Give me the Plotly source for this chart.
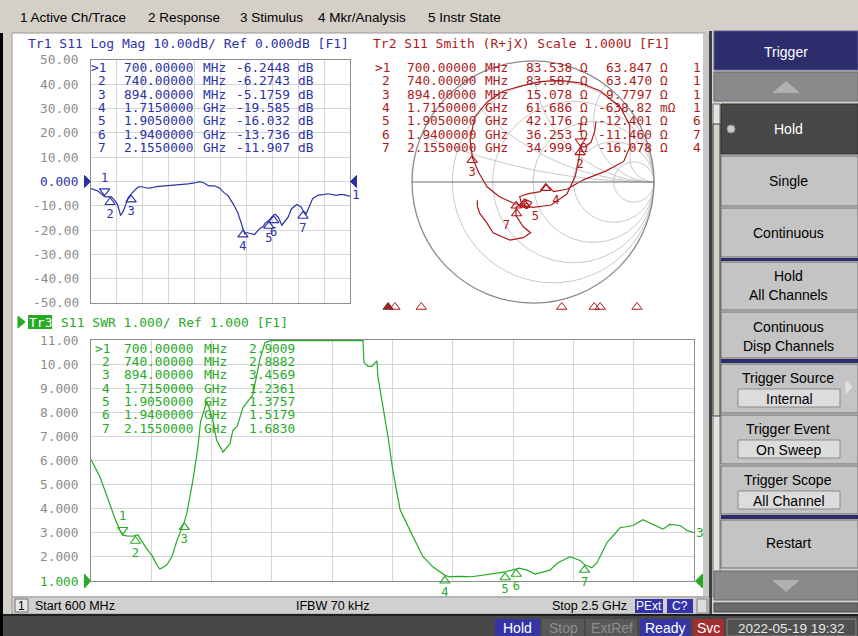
import numpy as np
import plotly.graph_objects as go

W, H = 858, 636
def X(px): return px / W
def Y(py): return 1 - py / H

MONO = 'DejaVu Sans Mono'
SANS = 'Liberation Sans'
BLUE = '#2b32a8'
RED = '#ad1a1a'
GREEN = '#26aa26'
TICKGRAY = '#8c8c8c'

# ---------------- data ----------------
freq_mhz = [600, 628, 647, 660, 676, 691, 700, 713, 732, 740, 748, 776, 792, 808, 817, 824, 839,
            855, 871, 894, 902, 921, 937, 945, 965, 984, 996, 1016, 1038, 1047, 1060, 1079, 1110,
            1132, 1148, 1165, 1240, 1312, 1360, 1397, 1430, 1457, 1460, 1473, 1485, 1501, 1504,
            1517, 1526, 1536, 1551, 1574, 1605, 1646, 1678, 1700, 1715, 1727, 1740, 1763, 1800,
            1835, 1862, 1879, 1905, 1940, 1950, 1974, 2000, 2046, 2070, 2109, 2141, 2155, 2178,
            2194, 2226, 2267, 2289, 2308, 2339, 2371, 2402, 2424, 2456, 2478, 2500]
s11_db = [-2.9, -3.3, -3.8, -4.3, -5.0, -5.8, -6.24, -6.32, -6.35, -6.27, -6.22, -8.0, -9.2, -12.1,
          -14.0, -13.4, -12.0, -9.5, -6.8, -5.18, -4.66, -3.4, -2.67, -2.3, -2.06, -2.28, -2.56,
          -2.76, -2.61, -2.41, -2.36, -2.13, -2.0, -1.71, -1.6, -1.5, -1.2, -0.96, -0.6, -0.1,
          -0.6, -1.5, -1.73, -1.76, -1.76, -1.72, -1.84, -2.06, -2.24, -2.51, -3.14, -4.49, -5.81,
          -9.5, -13.0, -16.5, -19.59, -21.5, -21.0, -21.3, -21.8, -19.5, -18.5, -17.0, -16.03,
          -13.74, -13.5, -14.7, -18.0, -14.7, -11.3, -9.5, -10.5, -11.91, -13.3, -11.3, -7.05,
          -5.6, -5.53, -5.43, -5.04, -5.35, -5.71, -5.35, -5.43, -5.81, -6.02]

# S11 as complex reflection coefficient (Smith chart trace)
smith_gamma_re = [0.52, 0.51, 0.48, 0.43, 0.39, 0.38, 0.35, 0.28, 0.15, 0.00, -0.15, -0.28, -0.38,
                  -0.45, -0.50, -0.52, -0.48, -0.38, -0.25, -0.11, 0.06, 0.22, 0.39, 0.56, 0.72,
                  0.80, 0.80, 0.75, 0.60, 0.42, 0.28, 0.17, 0.11, 0.06, 0.00, -0.05, -0.11, -0.09,
                  -0.04, -0.01, -0.07, -0.11, -0.14, -0.14, -0.08, -0.02, -0.08, -0.19, -0.33,
                  -0.38, -0.44, -0.46, -0.46]
smith_gamma_im = [0.50, 0.42, 0.33, 0.29, 0.29, 0.20, 0.05, -0.10, -0.19, -0.21, -0.18, -0.12,
                  -0.04, 0.08, 0.20, 0.35, 0.54, 0.66, 0.75, 0.79, 0.83, 0.84, 0.82, 0.75, 0.62,
                  0.47, 0.29, 0.17, 0.09, 0.02, -0.06, -0.08, -0.02, -0.08, -0.09, -0.10, -0.12,
                  -0.20, -0.21, -0.17, -0.14, -0.19, -0.21, -0.28, -0.37, -0.42, -0.46, -0.48,
                  -0.42, -0.34, -0.26, -0.20, -0.15]

marker_ids = ['1', '2', '3', '4', '5', '6', '7']
marker_freq_mhz = [700, 740, 894, 1715, 1905, 1940, 2155]
marker_freq_text = ['700.00000', '740.00000', '894.00000', '1.7150000', '1.9050000', '1.9400000', '2.1550000']
marker_freq_unit = ['MHz', 'MHz', 'MHz', 'GHz', 'GHz', 'GHz', 'GHz']
marker_db = [-6.2448, -6.2743, -5.1759, -19.585, -16.032, -13.736, -11.907]
marker_r_ohm = [83.538, 83.587, 15.078, 61.686, 42.176, 36.253, 34.999]
marker_x_ohm = [63.847, 63.470, 9.7797, -0.63882, -12.401, -11.460, -16.078]
marker_x_text = ['63.847', '63.470', '9.7797', '-638.82', '-12.401', '-11.460', '-16.078']
marker_x_unit = ['Ω', 'Ω', 'Ω', 'mΩ', 'Ω', 'Ω', 'Ω']
marker_lc_text = ['1', '1', '1', '1', '6', '7', '4']
marker_swr = [2.9009, 2.8882, 3.4569, 1.2361, 1.3757, 1.5179, 1.6830]

tr1_tick_vals = [50, 40, 30, 20, 10, 0, -10, -20, -30, -40, -50]
tr1_tick_text = ['50.00', '40.00', '30.00', '20.00', '10.00', '0.000', '-10.00', '-20.00', '-30.00', '-40.00', '-50.00']
tr3_tick_vals = [11, 10, 9, 8, 7, 6, 5, 4, 3, 2, 1]
tr3_tick_text = ['11.00', '10.00', '9.000', '8.000', '7.000', '6.000', '5.000', '4.000', '3.000', '2.000', '1.000']

# ---------------- geometry (px) ----------------
F0, F1 = 600, 2500
T1 = dict(x0=91, x1=350, y0=60, y1=303, top=50, bot=-50)
T3 = dict(x0=91, x1=694, y0=340, y1=581, top=11, bot=1)
SM = dict(x0=412, x1=654, y0=61, y1=303)
SM_ROW = dict(x0=371, x1=696)

def fpx(T, f):
    return T['x0'] + (f - F0) / (F1 - F0) * (T['x1'] - T['x0'])
def vpx(T, v):
    return T['y0'] + (T['top'] - v) / (T['top'] - T['bot']) * (T['y1'] - T['y0'])
def upp(T):
    return (T['top'] - T['bot']) / (T['y1'] - T['y0'])

shapes = []
annotations = []

def rect(x0, y0, x1, y1, fill, line=None, lw=1, layer='below'):
    shapes.append(dict(type='rect', xref='paper', yref='paper', x0=X(x0), x1=X(x1), y0=Y(y1), y1=Y(y0),
                       fillcolor=fill, line=dict(color=line or fill, width=lw if line else 0), layer=layer))

def tri(cx, cy, w, h, direction, fill, line=None):
    if direction == 'up':
        pts = [(cx - w / 2, cy + h / 2), (cx + w / 2, cy + h / 2), (cx, cy - h / 2)]
    elif direction == 'down':
        pts = [(cx - w / 2, cy - h / 2), (cx + w / 2, cy - h / 2), (cx, cy + h / 2)]
    elif direction == 'right':
        pts = [(cx - w / 2, cy - h / 2), (cx - w / 2, cy + h / 2), (cx + w / 2, cy)]
    else:
        pts = [(cx + w / 2, cy - h / 2), (cx + w / 2, cy + h / 2), (cx - w / 2, cy)]
    path = 'M ' + ' L '.join(f'{X(a):.5f},{Y(b):.5f}' for a, b in pts) + ' Z'
    shapes.append(dict(type='path', xref='paper', yref='paper', path=path, fillcolor=fill,
                       line=dict(color=line or fill, width=1), layer='above'))

def txt(x, y, s, color, size=12.8, family=MONO, xanchor='left', yanchor='middle', height=None):
    a = dict(x=X(x), y=Y(y), xref='paper', yref='paper', text=s, showarrow=False,
             font=dict(family=family, size=size, color=color), xanchor=xanchor,
             yanchor=yanchor, borderpad=0, borderwidth=0)
    if height is not None:
        a['height'] = height
        a['valign'] = 'middle'
    annotations.append(a)

# ---------------- background / chrome ----------------
rect(0, 0, 858, 33, '#d4d0c8')
rect(0, 33, 3, 636, '#000000')
rect(3, 33, 12, 614, '#d4d0c8')
rect(12, 33, 706, 597, '#ffffff', line='#9a9a9a', lw=1)
rect(703, 33, 710, 597, '#c8c8c8')
rect(709, 31, 712, 614, '#404040')

# menu
for xx, s in [(20, '1 Active Ch/Trace'), (148, '2 Response'), (240, '3 Stimulus'),
              (318, '4 Mkr/Analysis'), (428, '5 Instr State')]:
    txt(xx, 17, s, '#000000', size=13.5, family=SANS)

# channel status bar
rect(12, 597, 709, 614, '#d0d0d0', line='#9a9a9a')
rect(15, 599, 28, 612, '#e8e8e8', line='#707070')
txt(21.5, 606, '1', '#000000', size=12, family=SANS, xanchor='center')
txt(35, 606, 'Start 600 MHz', '#000000', size=12.5, family=SANS)
txt(296, 606, 'IFBW 70 kHz', '#000000', size=12.5, family=SANS)
txt(627, 606, 'Stop 2.5 GHz', '#000000', size=12.5, family=SANS, xanchor='right')
rect(635, 599, 663, 613, '#3434a8')
txt(649, 606, 'PExt', '#ffffff', size=12, family=SANS, xanchor='center')
rect(667, 599, 693, 613, '#3434a8')
txt(680, 606, 'C?', '#ffffff', size=12, family=SANS, xanchor='center')
rect(697, 599, 707, 613, '#dcdcdc', line='#808080')

# instrument status bar
rect(3, 614, 858, 636, '#484848')
rect(3, 614, 858, 616, '#202020')
rect(495, 619, 540, 636, '#3434a4')
txt(517.5, 628, 'Hold', '#ffffff', size=14, family=SANS, xanchor='center')
rect(542, 619, 584, 636, '#585858')
txt(563, 628, 'Stop', '#8c8c8c', size=14, family=SANS, xanchor='center')
rect(586, 619, 637, 636, '#585858')
txt(611.5, 628, 'ExtRef', '#8c8c8c', size=14, family=SANS, xanchor='center')
rect(640, 619, 690, 636, '#3434a4')
txt(665, 628, 'Ready', '#ffffff', size=14, family=SANS, xanchor='center')
rect(693, 619, 724, 636, '#a03030')
txt(708.5, 628, 'Svc', '#ffffff', size=14, family=SANS, xanchor='center')
rect(727, 619, 856, 636, '#505050', line='#8a8a8a')
txt(791.5, 628, '2022-05-19 19:32', '#e8e8e8', size=13.5, family=SANS, xanchor='center')

# right soft-key panel
NAVY = '#2d2d6e'
rect(714, 31, 858, 70, NAVY, line='#5a5a90')
txt(786, 52, 'Trigger', '#ffffff', size=14, family=SANS, xanchor='center')
rect(714, 72, 858, 101, '#8a8a8a', line='#6a6a6a')
tri(786, 87, 26, 11, 'up', '#b0b0b0')
rect(713, 104, 720, 597, '#e6e4de', line='#707070')
rect(713, 124, 720, 416, '#d4d0c8', line='#404040')
rect(721, 104, 858, 154, '#484848', line='#303030')
shapes.append(dict(type='circle', xref='paper', yref='paper', x0=X(727), x1=X(735), y0=Y(133), y1=Y(125),
                   fillcolor='#c8c8c8', line=dict(color='#909090', width=1)))
txt(788, 129, 'Hold', '#ffffff', size=14, family=SANS, xanchor='center')
BTN = '#c4c4c4'
BTNL = '#6e6e6e'
rect(721, 156, 858, 206, BTN, line=BTNL)
txt(788, 181, 'Single', '#000000', size=14, family=SANS, xanchor='center')
rect(721, 208, 858, 257, BTN, line=BTNL)
txt(788, 233, 'Continuous', '#000000', size=14, family=SANS, xanchor='center')
rect(721, 258, 858, 261, NAVY)
rect(721, 262, 858, 310, BTN, line=BTNL)
txt(788, 276, 'Hold', '#000000', size=14, family=SANS, xanchor='center')
txt(788, 295, 'All Channels', '#000000', size=14, family=SANS, xanchor='center')
rect(721, 312, 858, 358, BTN, line=BTNL)
txt(788, 327, 'Continuous', '#000000', size=14, family=SANS, xanchor='center')
txt(788, 346, 'Disp Channels', '#000000', size=14, family=SANS, xanchor='center')
rect(721, 359, 858, 363, NAVY)
for (y0, y1, lab, val) in [(364, 413, 'Trigger Source', 'Internal'),
                           (415, 464, 'Trigger Event', 'On Sweep'),
                           (466, 514, 'Trigger Scope', 'All Channel')]:
    rect(721, y0, 858, y1, BTN, line=BTNL)
    txt(788, y0 + 14, lab, '#000000', size=14, family=SANS, xanchor='center')
    rect(738, y0 + 25, 840, y0 + 43, '#dcdcdc', line='#8a8a8a')
    txt(789, y0 + 34.5, val, '#000000', size=14, family=SANS, xanchor='center')
tri(849, 387, 6, 13, 'right', '#e0e0e0')
rect(721, 515, 858, 519, NAVY)
rect(721, 520, 858, 568, BTN, line=BTNL)
txt(788, 543, 'Restart', '#000000', size=14, family=SANS, xanchor='center')
rect(714, 571, 858, 600, '#8a8a8a', line='#6a6a6a')
tri(786, 586, 26, 11, 'down', '#b0b0b0')
rect(714, 603, 858, 612, '#6a6a6a', line='#4a4a4a')

# ---------------- headers ----------------
txt(28, 44, 'Tr1 S11 Log Mag 10.00dB/ Ref 0.000dB [F1]', BLUE, size=13)
txt(373, 44, 'Tr2 S11 Smith (R+jX) Scale 1.000U [F1]', RED, size=13)
tri(21.5, 322, 7, 12, 'right', GREEN)
rect(28, 315, 52, 329, GREEN)
txt(29, 322, 'Tr3', '#ffffff', size=13)
txt(61, 322, 'S11 SWR 1.000/ Ref 1.000 [F1]', GREEN, size=13)

# tick labels
for v, s in zip(tr1_tick_vals, tr1_tick_text):
    txt(79, vpx(T1, v), s, BLUE if v == 0 else TICKGRAY, xanchor='right')
for v, s in zip(tr3_tick_vals, tr3_tick_text):
    txt(79, vpx(T3, v), s, GREEN if v == 1 else TICKGRAY, xanchor='right')

# reference-level pointers
tri(87.5, vpx(T1, 0), 6, 12, 'right', BLUE)
tri(353.5, vpx(T1, 0), 6, 12, 'left', BLUE)
tri(87.5, vpx(T3, 1), 6, 14, 'right', GREEN)
tri(699, vpx(T3, 1), 7, 14, 'left', GREEN)

# marker tables (tight rows, like the instrument)
ROW0, DROW, RH = 67.5, 13.33, 13
for i in range(7):
    y = ROW0 + i * DROW
    lab = ('>' if i == 0 else '') + marker_ids[i]
    # Tr1
    txt(106, y, lab, BLUE, xanchor='right', height=RH)
    txt(193, y, marker_freq_text[i], BLUE, xanchor='right', height=RH)
    txt(203, y, marker_freq_unit[i], BLUE, height=RH)
    txt(290, y, f'{marker_db[i]:.5g}' if abs(marker_db[i]) < 10 else f'{marker_db[i]:.3f}', BLUE,
        xanchor='right', height=RH)
    txt(298, y, 'dB', BLUE, height=RH)
    # Tr2
    txt(390, y, lab, RED, xanchor='right', height=RH)
    txt(476, y, marker_freq_text[i], RED, xanchor='right', height=RH)
    txt(485, y, marker_freq_unit[i], RED, height=RH)
    txt(572, y, f'{marker_r_ohm[i]:.3f}', RED, xanchor='right', height=RH)
    txt(580, y, 'Ω', RED, height=RH)
    txt(652, y, marker_x_text[i], RED, xanchor='right', height=RH)
    txt(660, y, marker_x_unit[i], RED, height=RH)
    txt(693, y, marker_lc_text[i], RED, height=RH)
    # Tr3
    y3 = 348.3 + i * DROW
    txt(110, y3, lab, GREEN, xanchor='right', height=RH)
    txt(193, y3, marker_freq_text[i], GREEN, xanchor='right', height=RH)
    txt(204, y3, marker_freq_unit[i], GREEN, height=RH)
    txt(295, y3, f'{marker_swr[i]:.4f}', GREEN, xanchor='right', height=RH)

# trace end labels
txt(352, vpx(T1, s11_db[-1]) - 2, '1', BLUE)

# ---------------- traces ----------------
f = np.array(freq_mhz, dtype=float)
db = np.array(s11_db, dtype=float)
mag = 10 ** (db / 20)
swr = (1 + mag) / (1 - mag)
swr_disp = np.minimum(swr, T3['top'] - 0.6 * upp(T3))
txt(696, vpx(T3, swr_disp[-1]), '3', GREEN)

fig = go.Figure()
fig.add_trace(go.Scatter(x=f, y=db, mode='lines', line=dict(color=BLUE, width=1.2),
                         xaxis='x', yaxis='y', hoverinfo='skip'))
fig.add_trace(go.Scatter(x=f, y=swr_disp, mode='lines', line=dict(color=GREEN, width=1.2),
                         xaxis='x3', yaxis='y3', hoverinfo='skip'))

g = np.array(smith_gamma_re) + 1j * np.array(smith_gamma_im)
z = (1 + g) / (1 - g)
fig.add_trace(go.Scattersmith(real=z.real, imag=z.imag, mode='lines',
                              line=dict(color=RED, width=1.2), subplot='smith', hoverinfo='skip'))

# marker symbols on traces
def marker_layout(n):
    sym = ['triangle-down-open' if i == 0 else 'triangle-up-open' for i in range(n)]
    pos = ['top center' if i == 0 else 'bottom center' for i in range(n)]
    sgn = np.array([1.0 if i == 0 else -1.0 for i in range(n)])
    return sym, pos, sgn

sym, pos, sgn = marker_layout(7)
mk_font = dict(family=MONO, size=12)
fig.add_trace(go.Scatter(x=marker_freq_mhz, y=np.array(marker_db) + sgn * 5.5 * upp(T1),
                         mode='markers+text', text=marker_ids, textposition=pos,
                         textfont=dict(color=BLUE, **mk_font),
                         marker=dict(symbol=sym, size=9, color=BLUE, line=dict(width=1.1)),
                         xaxis='x', yaxis='y', cliponaxis=False, hoverinfo='skip'))
fig.add_trace(go.Scatter(x=marker_freq_mhz, y=np.array(marker_swr) + sgn * 5.5 * upp(T3),
                         mode='markers+text', text=marker_ids, textposition=pos,
                         textfont=dict(color=GREEN, **mk_font),
                         marker=dict(symbol=sym, size=9, color=GREEN, line=dict(width=1.1)),
                         xaxis='x3', yaxis='y3', cliponaxis=False, hoverinfo='skip'))
zm = (np.array(marker_r_ohm) + 1j * np.array(marker_x_ohm)) / 50.0
gm = (zm - 1) / (zm + 1) + 1j * sgn * 5.5 / ((SM['x1'] - SM['x0']) / 2)
zmo = (1 + gm) / (1 - gm)
sm_pos = ['top center', 'bottom center', 'bottom center', 'bottom right', 'bottom right',
          'middle right', 'bottom left']
fig.add_trace(go.Scattersmith(real=zmo.real, imag=zmo.imag, mode='markers+text', text=marker_ids,
                              textposition=sm_pos, textfont=dict(color=RED, **mk_font),
                              marker=dict(symbol=sym, size=9, color=RED, line=dict(width=1.1)),
                              subplot='smith', cliponaxis=False, hoverinfo='skip'))

# marker position indicators under each window
ind_sym = ['triangle-up' if i == 0 else 'triangle-up-open' for i in range(7)]
fig.add_trace(go.Scatter(x=marker_freq_mhz, y=[T1['bot'] - 4.5 * upp(T1)] * 7, mode='markers',
                         marker=dict(symbol=ind_sym, size=9, color=BLUE, line=dict(width=1)),
                         xaxis='x', yaxis='y', cliponaxis=False, hoverinfo='skip'))
fig.add_trace(go.Scatter(x=marker_freq_mhz, y=[T3['bot'] - 5 * upp(T3)] * 7, mode='markers',
                         marker=dict(symbol=ind_sym, size=9, color=GREEN, line=dict(width=1)),
                         xaxis='x3', yaxis='y3', cliponaxis=False, hoverinfo='skip'))
fig.add_trace(go.Scatter(x=marker_freq_mhz, y=[0.5] * 7, mode='markers',
                         marker=dict(symbol=ind_sym, size=9, color=RED, line=dict(width=1)),
                         xaxis='x4', yaxis='y4', cliponaxis=False, hoverinfo='skip'))

# ---------------- axes ----------------
def grid_axis(domain, rng, dtick, anchor):
    return dict(domain=domain, range=rng, tick0=rng[0], dtick=dtick, showgrid=True,
                gridcolor='#d6d6d6', gridwidth=1, zeroline=False, showticklabels=False, ticks='',
                showline=True, linecolor='#8c8c8c', linewidth=1, mirror=True, anchor=anchor,
                fixedrange=True, layer='below traces')

layout = dict(
    width=W, height=H, margin=dict(l=0, r=0, t=0, b=0),
    paper_bgcolor='#d4d0c8', plot_bgcolor='#ffffff', showlegend=False,
    xaxis=grid_axis([X(T1['x0']), X(T1['x1'])], [F0, F1], 190, 'y'),
    yaxis=grid_axis([Y(T1['y1']), Y(T1['y0'])], [T1['bot'], T1['top']], 10, 'x'),
    xaxis3=grid_axis([X(T3['x0']), X(T3['x1'])], [F0, F1], 190, 'y3'),
    yaxis3=grid_axis([Y(T3['y1']), Y(T3['y0'])], [T3['bot'], T3['top']], 1, 'x3'),
    xaxis4=dict(domain=[X(SM_ROW['x0']), X(SM_ROW['x1'])], range=[F0, F1], visible=False, anchor='y4',
                fixedrange=True),
    yaxis4=dict(domain=[Y(312), Y(302)], range=[0, 1], visible=False, anchor='x4', fixedrange=True),
    smith=dict(domain=dict(x=[X(SM['x0']), X(SM['x1'])], y=[Y(SM['y1']), Y(SM['y0'])]),
               bgcolor='rgba(255,255,255,0)',
               realaxis=dict(tickvals=[0.2, 0.5, 1, 2, 5], showticklabels=False, ticks='',
                             gridcolor='#c8c8c8', linecolor='#6e6e6e', showline=True, linewidth=1),
               imaginaryaxis=dict(tickvals=[0.2, 0.5, 1, 2, 5], showticklabels=False, ticks='',
                                  gridcolor='#c8c8c8', linecolor='#8a8a8a', showline=True, linewidth=1.3)),
    shapes=shapes, annotations=annotations,
)
fig.update_layout(**layout)

fig.write_html("out.html", include_plotlyjs=True, config={'displayModeBar': False, 'staticPlot': True},
               post_script="document.body.style.margin='0';document.body.style.overflow='hidden';")
